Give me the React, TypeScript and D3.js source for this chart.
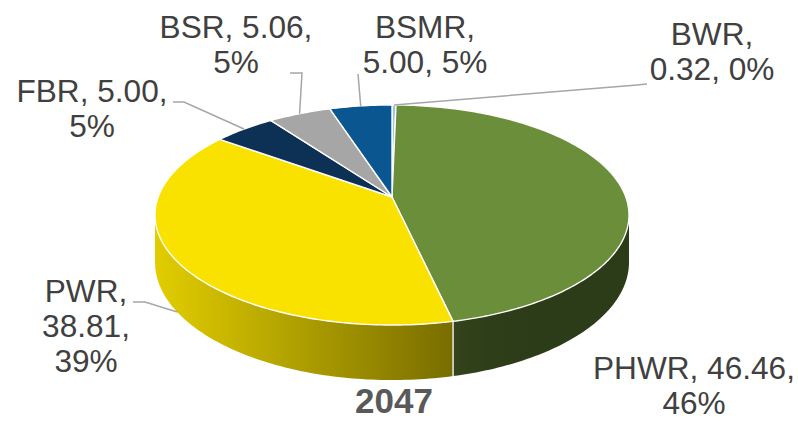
import React, { useRef, useEffect } from "react";
import * as d3 from "d3";

const names = ["BWR", "PHWR", "PWR", "FBR", "BSR", "BSMR"];
const values = [0.32, 46.46, 38.81, 5.0, 5.06, 5.0];
const colors = ["#9DC3E6", "#6A8E3A", "#F9E200", "#0D3055", "#A6A6A6", "#0A5690"];
// how the "name, value, pct" parts are split over lines
const lineSplits = [[1, 2], [2, 1], [1, 1, 1], [2, 1], [2, 1], [1, 2]];
const title = "2047";

const App = () => {
  const svgRef = useRef<SVGSVGElement>(null);

  useEffect(() => {
    const width = 798;
    const height = 421;
    const svg = d3.select(svgRef.current).attr("width", width).attr("height", height);
    svg.selectAll("*").remove();

    // perspective pie geometry
    const cx = 392, cy = 197, A = 233.8, B = 107.1, k = 0.1636, H = 46;
    const proj = (t: number, drop = 0): [number, number] => {
      const u = Math.sin(t), v = -Math.cos(t), d = 1 - k * v;
      return [cx + (A * u) / d, cy + (B * v) / d + (drop * H) / d];
    };
    const arcPts = (a0: number, a1: number, drop = 0) => {
      const n = Math.max(2, Math.ceil(((a1 - a0) * 180) / Math.PI));
      return d3.range(n + 1).map((i) => proj(a0 + ((a1 - a0) * i) / n, drop));
    };
    const line = d3.line();

    const total = d3.sum(values);
    const pct = d3.format(".0%");
    const arcs = d3.pie<number>().sort(null).value((d) => d)(values);

    const tR = Math.acos(-k);
    const tL = 2 * Math.PI - tR;
    const xL = cx - A / Math.sqrt(1 - k * k);
    const xR = cx + A / Math.sqrt(1 - k * k);
    const shade = (x: number) => Math.max(0.42, 0.9 - ((x - 160) / 295) * 0.42);

    const defs = svg.append("defs");

    // SIDE WALLS
    arcs.forEach((a, i) => {
      const s = Math.max(a.startAngle, tR);
      const e = Math.min(a.endAngle, tL);
      if (e <= s) return;
      const g = defs
        .append("linearGradient")
        .attr("id", `wall${i}`)
        .attr("gradientUnits", "userSpaceOnUse")
        .attr("x1", xL).attr("x2", xR).attr("y1", 0).attr("y2", 0);
      d3.range(11).forEach((j) => {
        const x = xL + ((xR - xL) * j) / 10;
        g.append("stop")
          .attr("offset", j / 10)
          .attr("stop-color", d3.interpolateRgb("#000", colors[i])(shade(x)));
      });
      const pts = [...arcPts(s, e, 0), ...arcPts(s, e, 1).reverse()];
      svg.append("path").attr("d", line(pts) + "Z").attr("fill", `url(#wall${i})`);
    });

    // wall separators
    arcs.forEach((a) => {
      const t = a.endAngle;
      if (t > tR && t < tL) {
        svg.append("path")
          .attr("d", line([proj(t, 0), proj(t, 1)]))
          .attr("stroke", "#fff").attr("stroke-width", 1.3);
      }
    });

    // TOP FACE
    arcs.forEach((a, i) => {
      const pts = [[cx, cy] as [number, number], ...arcPts(a.startAngle, a.endAngle)];
      svg.append("path")
        .attr("d", line(pts) + "Z")
        .attr("fill", colors[i])
        .attr("stroke", "#fff")
        .attr("stroke-width", 1.4)
        .attr("stroke-linejoin", "round");
    });

    // LABELS
    const labelPos = [
      { x: 712, y: 45, lead: [[647, 84], [637, 85]], drop: 0 },
      { x: 694, y: 379, lead: null, drop: 0 },
      { x: 86, y: 302, lead: [[133, 302], [145, 302]], drop: 1 },
      { x: 92, y: 102, lead: [[173, 102], [184, 102]], drop: 0 },
      { x: 236, y: 38, lead: [[290, 73], [302, 73]], drop: 0 },
      { x: 425, y: 38, lead: [[358, 74]], drop: 0 },
    ];

    arcs.forEach((a, i) => {
      const p = labelPos[i];
      if (p.lead) {
        const mid = (a.startAngle + a.endAngle) / 2;
        const pts = [...p.lead, proj(mid, p.drop)] as [number, number][];
        svg.append("path")
          .attr("d", line(pts))
          .attr("fill", "none")
          .attr("stroke", "#A6A6A6")
          .attr("stroke-width", 1.5);
      }
      const parts = [`${names[i]},`, `${values[i].toFixed(2)},`, pct(values[i] / total)];
      let idx = 0;
      const lines = lineSplits[i].map((n) => {
        const l = parts.slice(idx, idx + n).join(" ");
        idx += n;
        return l;
      });
      const text = svg.append("text")
        .attr("text-anchor", "middle")
        .attr("font-family", "'Liberation Sans', Arial, sans-serif")
        .attr("font-size", 31.6)
        .attr("fill", "#404040");
      lines.forEach((l, j) => {
        text.append("tspan").attr("x", p.x).attr("y", p.y + j * 35).text(l);
      });
    });

    // TITLE
    svg.append("text")
      .attr("x", 394)
      .attr("y", 413)
      .attr("text-anchor", "middle")
      .attr("font-family", "'Liberation Sans', Arial, sans-serif")
      .attr("font-size", 35)
      .attr("font-weight", "bold")
      .attr("fill", "#595959")
      .text(title);
  }, []);

  return (
    <div style={{ position: "absolute", left: 0, top: 0 }}>
      <svg ref={svgRef} style={{ display: "block" }}></svg>
    </div>
  );
};

export default App;
